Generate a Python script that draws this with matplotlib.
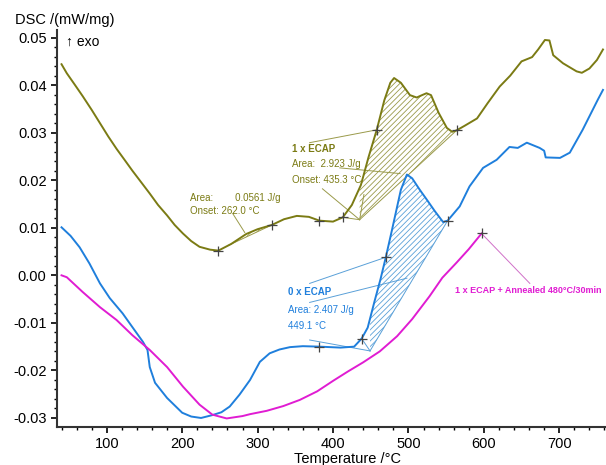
import numpy as np
import matplotlib
matplotlib.use('Agg')
import matplotlib.pyplot as plt

plt.rcParams['font.family'] = ['Liberation Sans', 'DejaVu Sans']
plt.rcParams['axes.unicode_minus'] = False
plt.rcParams['hatch.linewidth'] = 0.6

# 1 x ECAP (olive)
t_ecap1 = [40, 47, 58, 68, 80, 91, 102, 113, 124, 134, 146, 157, 168, 180, 190, 201, 212, 223,
           237, 248, 265, 285, 300, 319, 335, 352, 368, 382, 400, 413, 425, 437, 447, 458, 468,
           476, 481, 490, 502, 511, 518, 524, 530, 540, 551, 558, 564, 575, 591, 605, 621, 635,
           650, 664, 672, 681, 687, 692, 705, 723, 730, 740, 750, 758]
dsc_ecap1 = [0.0444, 0.0425, 0.0400, 0.0377, 0.0348, 0.0320, 0.0292, 0.0266, 0.0242, 0.0220,
             0.0195, 0.0172, 0.0148, 0.0126, 0.0106, 0.0088, 0.0072, 0.0060, 0.0054, 0.0052,
             0.0066, 0.0087, 0.0097, 0.0106, 0.0118, 0.0125, 0.0123, 0.0115, 0.0113, 0.0122,
             0.0148, 0.0190, 0.0248, 0.0306, 0.0368, 0.0405, 0.0415, 0.0405, 0.0379, 0.0374,
             0.0379, 0.0383, 0.0379, 0.0342, 0.0310, 0.0302, 0.0305, 0.0315, 0.0330, 0.0362,
             0.0397, 0.0420, 0.0450, 0.0459, 0.0475, 0.0495, 0.0494, 0.0463, 0.0446, 0.0429,
             0.0426, 0.0435, 0.0453, 0.0475]

# 0 x ECAP (blue)
t_ecap0 = [40, 52, 64, 77, 91, 104, 121, 134, 148, 154, 157, 164, 180, 200, 212, 225, 240, 252,
           263, 276, 290, 303, 316, 329, 343, 360, 382, 410, 428, 438, 446, 455, 463, 470, 478,
           490, 498, 505, 515, 524, 535, 546, 552, 568, 581, 599, 617, 634, 645, 657, 674, 680,
           682, 701, 714, 731, 751, 758]
dsc_ecap0 = [0.0101, 0.0083, 0.0059, 0.0025, -0.0017, -0.0048, -0.0080, -0.0109, -0.0140,
             -0.0157, -0.0193, -0.0226, -0.0258, -0.0289, -0.0297, -0.0300, -0.0294, -0.0288,
             -0.0276, -0.0251, -0.0220, -0.0182, -0.0164, -0.0156, -0.0151, -0.0149, -0.0150,
             -0.0152, -0.0150, -0.0133, -0.0110, -0.0055, -0.0008, 0.0038, 0.0094, 0.0180,
             0.0212, 0.0204, 0.0180, 0.0160, 0.0135, 0.0112, 0.0115, 0.0145, 0.0187, 0.0226,
             0.0243, 0.0270, 0.0268, 0.0279, 0.0268, 0.0262, 0.0248, 0.0247, 0.0258, 0.0306,
             0.0369, 0.0390]

# 1 x ECAP + Annealed (magenta)
t_ann = [40, 47, 68, 91, 113, 134, 157, 180, 201, 223, 240, 259, 280, 290, 312, 334, 356, 379,
         400, 420, 440, 462, 485, 505, 528, 545, 564, 580, 597]
dsc_ann = [0.0000, -0.0004, -0.0035, -0.0067, -0.0094, -0.0126, -0.0157, -0.0193, -0.0234,
           -0.0272, -0.0293, -0.0301, -0.0296, -0.0292, -0.0285, -0.0275, -0.0262, -0.0244,
           -0.0222, -0.0202, -0.0183, -0.0160, -0.0128, -0.0092, -0.0044, -0.0005, 0.0027,
           0.0055, 0.0088]

marks_ecap1 = [248, 319, 382, 413, 458, 564]
marks_ecap0 = [382, 438, 470, 552]
marks_ann = [597]

olive = '#7b7b14'
olive_l = '#9a9a4a'
blue = '#1f7fdc'
blue_l = '#5aa0d8'
magenta = '#e01cd2'
magenta_l = '#d070c8'

fig = plt.figure(figsize=(6.06, 4.65), dpi=100)
ax = fig.add_axes([57 / 606, 1 - 427 / 465, 1 - 57 / 606, (427 - 30) / 465])

ax.plot(t_ecap1, dsc_ecap1, color=olive, lw=1.4, zorder=3)
ax.plot(t_ecap0, dsc_ecap0, color=blue, lw=1.4, zorder=3)
ax.plot(t_ann, dsc_ann, color=magenta, lw=1.4, zorder=3)


def at(t, xs, ys):
    return float(np.interp(t, xs, ys))


def hatch_area(t0, v0, t1, xs, ys, col):
    v1 = at(t1, xs, ys)
    tt = np.linspace(t0, t1, 200)
    curve = np.interp(tt, xs, ys)
    base = v0 + (v1 - v0) * (tt - t0) / (t1 - t0)
    ax.fill_between(tt, base, curve, where=curve >= base, facecolor='none',
                    edgecolor=col, hatch='//////', linewidth=0, zorder=2)
    ax.plot([t0, t1], [v0, v1], color=col, lw=0.7, zorder=2)


# small olive peak
hatch_area(262, at(262, t_ecap1, dsc_ecap1), 319, t_ecap1, dsc_ecap1, olive_l)

# olive main peak construction
on1 = (435.3, 0.0117)
hatch_area(on1[0], on1[1], 564, t_ecap1, dsc_ecap1, olive_l)
ax.plot([413, on1[0]], [at(413, t_ecap1, dsc_ecap1), on1[1]], color=olive_l, lw=0.7)
ax.plot([on1[0], 441], [on1[1], 0.0170], color=olive_l, lw=0.7)
ax.plot([369, 458], [0.0279, at(458, t_ecap1, dsc_ecap1)], color=olive_l, lw=0.7)
ax.plot([409, 489], [0.0226, 0.0214], color=olive_l, lw=0.7)
ax.plot([386, on1[0]], [0.0182, on1[1]], color=olive_l, lw=0.7)
ax.plot([267, 283], [0.0130, 0.0090], color=olive_l, lw=0.7)

# blue peak construction
on0 = (449.1, -0.0159)
hatch_area(on0[0], on0[1], 552, t_ecap0, dsc_ecap0, blue_l)
ax.plot([438, on0[0]], [at(438, t_ecap0, dsc_ecap0), on0[1]], color=blue_l, lw=0.7)
ax.plot([369, 470], [-0.0017, at(470, t_ecap0, dsc_ecap0)], color=blue_l, lw=0.7)
ax.plot([369, 498], [-0.0057, -0.0006], color=blue_l, lw=0.7)
ax.plot([369, on0[0]], [-0.0136, on0[1]], color=blue_l, lw=0.7)

# magenta leader
ax.plot([597, 661], [at(597, t_ann, dsc_ann), -0.0017], color=magenta_l, lw=0.7)

for ms, xs, ys in [(marks_ecap1, t_ecap1, dsc_ecap1), (marks_ecap0, t_ecap0, dsc_ecap0),
                   (marks_ann, t_ann, dsc_ann)]:
    ax.plot(ms, [at(m, xs, ys) for m in ms], '+', color='#444444', ms=7, mew=0.9, zorder=4)

fs = 7
ax.text(345, 0.0266, '1 x ECAP', color=olive, fontsize=fs, weight='bold', va='center')
ax.text(345, 0.0235, 'Area:  2.923 J/g', color=olive, fontsize=fs, va='center')
ax.text(345, 0.0201, 'Onset: 435.3 °C', color=olive, fontsize=fs, va='center')
ax.text(210, 0.0163, 'Area:        0.0561 J/g', color=olive, fontsize=fs, va='center')
ax.text(210, 0.0136, 'Onset: 262.0 °C', color=olive, fontsize=fs, va='center')
ax.text(340, -0.0036, '0 x ECAP', color=blue, fontsize=fs, weight='bold', va='center')
ax.text(340, -0.0073, 'Area: 2.407 J/g', color=blue, fontsize=fs, va='center')
ax.text(340, -0.0107, '449.1 °C', color=blue, fontsize=fs, va='center')
ax.text(562, -0.0031, '1 x ECAP + Annealed 480°C/30min', color=magenta, fontsize=6.5,
        weight='bold', va='center')
ax.text(46, 0.0492, '↑ exo', fontsize=10, va='center')

ax.set_xlim(34, 762)
ax.set_ylim(-0.0319, 0.0516)
ax.set_xticks([100, 200, 300, 400, 500, 600, 700])
ax.set_xticks(np.arange(40, 761, 20), minor=True)
ax.set_yticks(np.arange(-0.03, 0.051, 0.01))
ax.set_yticks(np.arange(-0.03, 0.051, 0.002), minor=True)
ax.yaxis.set_major_formatter(matplotlib.ticker.FormatStrFormatter('%.2f'))
ax.tick_params(labelsize=10.5, direction='out', width=1.2, length=4)
ax.tick_params(which='minor', direction='out', width=1, length=2.5)
for s in ['top', 'right']:
    ax.spines[s].set_visible(False)
for s in ['left', 'bottom']:
    ax.spines[s].set_linewidth(1.5)
    ax.spines[s].set_color('#333333')

fig.text(15 / 606, 1 - 20 / 465, 'DSC /(mW/mg)', fontsize=10.5, va='center')
fig.text(348 / 606, 1 - 459 / 465, 'Temperature /°C', fontsize=10.5, va='center', ha='center')

fig.savefig('out.png', dpi=100)
